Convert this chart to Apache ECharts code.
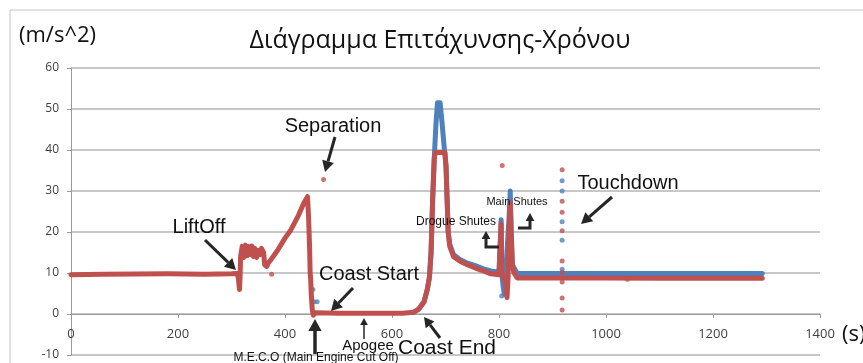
<!DOCTYPE html>
<html>
<head>
<meta charset="utf-8">
<script src="https://cdn.jsdelivr.net/npm/echarts@6/dist/echarts.min.js"></script>
<style>
  html, body { margin: 0; padding: 0; background: #fff; }
  #chart { width: 863px; height: 363px; }
</style>
</head>
<body>
<div id="chart"></div>
<script>
// x axis ticks (s) and y axis ticks (m/s^2)
const xTicks = [0, 200, 400, 600, 800, 1000, 1200, 1400];
const yTicks = [-10, 0, 10, 20, 30, 40, 50, 60];

// red trace: [time, acceleration]
const redTrace = [
    [0, 9.6], [60, 9.7], [180, 9.8], [250, 9.7], [300, 9.8], [311, 9.9],
    [313, 8.5], [315, 6.0], [316, 9.0], [317, 14], [320, 16.5], [323, 13.8],
    [326, 16.8], [329, 14.2], [332, 16.5], [335, 14.5], [338, 16.6], [341, 14],
    [344, 16], [347, 13.8], [350, 15.5], [353, 14.5], [356, 16], [360, 15],
    [362, 12], [366, 11.6], [368, 12.3], [375, 13.5], [386, 15.5], [400, 18.5],
    [411, 20.5], [425, 24], [435, 27], [442, 28.6], [444, 24], [446, 16],
    [447, 10], [448, 8.5], [449, 5], [451, 1], [453, -0.3], [456, 0.3],
    [500, 0.2], [560, 0.2], [620, 0.2], [640, 0.4], [650, 1.2], [660, 3],
    [666, 6], [670, 9], [673, 15], [676, 28], [679, 38], [681, 39.4],
    [699, 39.4], [701, 36], [703, 28], [705, 20], [708, 16.5], [715, 14],
    [728, 12.8], [741, 12], [760, 11], [771, 10.5], [785, 9.8], [800, 9.6],
    [803, 10], [804, 22], [805, 10], [808, 9], [812, 8], [815, 4], [817, 9],
    [819, 20], [821, 27], [823, 18], [825, 12], [828, 10], [834, 8.8],
    [900, 8.8], [1000, 8.75], [1100, 8.75], [1200, 8.75], [1292, 8.75]
];

// blue trace, only where it shows from under the red one
const blueTrace = [
    [640, 0.4], [650, 1.2], [660, 3], [666, 6], [670, 9], [673, 15], [676, 28],
    [679, 38], [682, 46], [685, 51.5], [690, 51.5], [694, 46], [698, 40],
    [701, 36], [703, 28], [705, 20], [708, 17], [715, 14.5], [728, 13.2],
    [741, 12.4], [760, 11.6], [771, 11], [785, 10.5], [800, 10.2], [803, 10.5],
    [804, 23], [805, 10], [808, 6.5], [810, 4.8], [812, 9], [819, 24],
    [821, 30], [823, 20], [825, 12], [834, 9.9], [1000, 9.9], [1292, 9.9]
];

// loose points
const redDots = [
    [472, 32.8], [806, 36.2], [375, 9.7], [1040, 8.5],
    [918, 35.2], [918, 27.5], [918, 24.8], [918, 20.3], [918, 12.9],
    [918, 10.2], [918, 7.8], [918, 3.9], [918, 1.0]
];
const blueDots = [
    [452, 6], [454, 3], [460, 3], [805, 4.4],
    [918, 32.5], [918, 30], [918, 22.5], [918, 18], [918, 10.9]
];

const RED = '#C0504D';
const BLUE = '#4F81BD';
const INK = '#262626';

function arrow(x1, y1, x2, y2, w, head) {
    const dx = x2 - x1, dy = y2 - y1;
    const len = Math.sqrt(dx * dx + dy * dy);
    const ux = dx / len, uy = dy / len;
    const bx = x2 - ux * head, by = y2 - uy * head;
    const hw = head * 0.55;
    return [
        { type: 'line', shape: { x1: x1, y1: y1, x2: bx, y2: by },
          style: { stroke: INK, lineWidth: w }, z: 100 },
        { type: 'polygon', shape: { points: [[x2, y2], [bx - uy * hw, by + ux * hw], [bx + uy * hw, by - ux * hw]] },
          style: { fill: INK }, z: 100 }
    ];
}

function hook(points, w, head) {
    const n = points.length;
    const a = points[n - 2], b = points[n - 1];
    const parts = arrow(a[0], a[1], b[0], b[1], w, head);
    parts.push({ type: 'polyline', shape: { points: points.slice(0, n - 1) },
        style: { stroke: INK, lineWidth: w, fill: null }, z: 100 });
    return parts;
}

function label(text, x, y, size) {
    return {
        type: 'text', x: x, y: y, z: 100,
        style: { text: text, fill: '#111', font: size + 'px "Liberation Sans", Arial, sans-serif',
                 textAlign: 'center', textVerticalAlign: 'middle' }
    };
}

const chart = echarts.init(document.getElementById('chart'));

const graphics = [
    { type: 'rect', shape: { x: 10, y: 10, width: 900, height: 400 },
      style: { fill: null, stroke: '#c4c4c4', lineWidth: 1 }, z: -1 },
    { type: 'text', x: 19, y: 36,
      style: { text: '(m/s^2)', fill: '#111', font: '22px "Open Sans", sans-serif', textVerticalAlign: 'middle' } },
    { type: 'text', x: 440, y: 41,
      style: { text: 'Διάγραμμα Επιτάχυνσης-Χρόνου', fill: '#111', font: '25px "Open Sans", sans-serif',
               textAlign: 'center', textVerticalAlign: 'middle' } },
    { type: 'text', x: 842, y: 335,
      style: { text: '(s)', fill: '#111', font: '22px "Open Sans", sans-serif', textVerticalAlign: 'middle' } },
    label('Separation', 333, 126, 20),
    label('LiftOff', 199, 227, 20),
    label('Coast Start', 369, 274, 20),
    label('M.E.C.O (Main Engine Cut Off)', 316, 358, 12),
    label('Apogee', 368, 346, 15),
    label('Coast End', 447, 348, 21),
    label('Drogue Shutes', 456, 222, 12),
    label('Main Shutes', 517, 202, 11),
    label('Touchdown', 628, 183, 20)
].concat(
    arrow(335, 137, 325, 172, 3, 11),
    arrow(205, 240, 236, 270, 3, 11),
    arrow(353, 288, 331, 311, 3, 11),
    arrow(315, 354, 315, 319, 3.5, 12),
    arrow(364, 339, 364, 318, 1.5, 7),
    arrow(440, 338, 424, 317, 3, 10),
    arrow(612, 197, 581, 224, 3, 11),
    hook([[499, 247], [486, 247], [486, 240], [486, 231]], 3, 8),
    hook([[518, 228], [530, 228], [530, 222], [530, 213]], 3, 8)
);

const option = {
    animation: false,
    backgroundColor: '#fff',
    grid: { left: 71, right: 43, top: 68, bottom: 8, containLabel: false, outerBoundsMode: 'none' },
    xAxis: {
        type: 'value',
        min: xTicks[0],
        max: xTicks[xTicks.length - 1],
        interval: 200,
        offset: -41,
        axisLine: { onZero: false, lineStyle: { color: '#9a9a9a', width: 1 } },
        axisTick: { show: true, length: 4, lineStyle: { color: '#9a9a9a' } },
        axisLabel: { margin: 14, color: '#404040', fontSize: 13, fontFamily: 'Open Sans',
                     formatter: function (v) { return String(v); } },
        splitLine: { show: false }
    },
    yAxis: {
        type: 'value',
        min: yTicks[0],
        max: yTicks[yTicks.length - 1],
        interval: 10,
        axisLine: { show: true, onZero: false, lineStyle: { color: '#9a9a9a', width: 1 } },
        axisTick: { show: true, length: 4, lineStyle: { color: '#9a9a9a' } },
        axisLabel: { margin: 12, color: '#404040', fontSize: 12, fontFamily: 'Open Sans',
                     formatter: function (v) { return String(v); } },
        splitLine: { show: true, lineStyle: { color: '#b4b4b4', width: 1.5 } }
    },
    series: [
        {
            name: 'blue', type: 'line', data: blueTrace, showSymbol: false,
            lineStyle: { color: BLUE, width: 5, join: 'round', cap: 'round' }, z: 2
        },
        {
            name: 'blueDots', type: 'scatter', data: blueDots, symbolSize: 5,
            itemStyle: { color: BLUE }, z: 3
        },
        {
            name: 'red', type: 'line', data: redTrace, showSymbol: false,
            lineStyle: { color: RED, width: 5, join: 'round', cap: 'round' }, z: 4
        },
        {
            name: 'redDots', type: 'scatter', data: redDots, symbolSize: 5,
            itemStyle: { color: RED }, z: 5
        }
    ],
    graphic: graphics
};

chart.setOption(option);
</script>
</body>
</html>
